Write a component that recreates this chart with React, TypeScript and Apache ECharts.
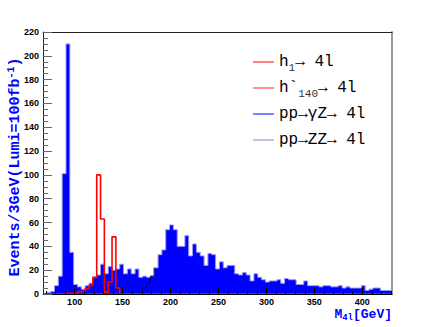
import React, { useEffect, useRef } from "react";
import * as echarts from "echarts";

// ---- data ----
const binStart = 67; // GeV, left edge of first bin
const binWidth = 4; // GeV
// pp -> gamma Z / ZZ -> 4l (filled histogram), events per bin
const gzCounts = [
  0, 1, 2, 7, 15, 101, 210, 35, 8, 6,
  4, 7, 9, 14, 16, 25, 17, 23, 20, 21,
  25, 17, 21, 17, 21, 14, 15, 14, 15, 22,
  33, 37, 54, 58, 54, 40, 40, 49, 32, 42,
  35, 32, 24, 34, 33, 21, 27, 22, 24, 24,
  17, 16, 18, 16, 11, 17, 14, 12, 10, 11,
  11, 12, 9, 13, 12, 12, 8, 8, 11, 7,
  7, 7, 6, 7, 7, 6, 6, 7, 5, 6,
  5, 5, 5, 7, 3, 4, 5, 5, 3, 3, 3,
];
// ZZ threshold line (dark), starting at bin index zzFirstBin
const zzFirstBin = 25;
const zzCounts = [0, 5, 9, 15, 22];
// h1 -> 4l signal (red outline), non-zero bins starting at h1FirstBin
const h1FirstBin = 5;
const h1Counts = [0.5, 0.5, 0.5, 1, 2, 2, 4.5, 7, 14, 100, 63, 1.5];
// h'140 -> 4l signal
const h140FirstBin = 15;
const h140Counts = [0.5, 2, 10, 48, 5];

const xMajorTicks = [100, 150, 200, 250, 300, 350, 400];
const xMinorTicks = [70, 80, 90, 100, 110, 120, 130, 140, 150, 160, 170, 180, 190, 200, 210, 220, 230, 240, 250, 260, 270, 280, 290, 300, 310, 320, 330, 340, 350, 360, 370, 380, 390, 400, 410, 420, 430];

const legendLabels: Record<string, string> = {
  h1: "h{sub|1}→ 4l",
  h140: "h`{sub|140}→ 4l",
  gz: "pp→γZ→ 4l",
  zz: "pp→ZZ→ 4l",
};

const nBins = gzCounts.length;
const xMin = binStart;
const xMax = binStart + nBins * binWidth;

function pad(first: number, arr: number[]): number[] {
  const out: number[] = [];
  for (let k = 0; k < nBins; k++) {
    out.push(k >= first && k < first + arr.length ? arr[k - first] : 0);
  }
  return out;
}

function histPoints(counts: number[], first = 0, close = true): number[][] {
  const pts = counts.map((v, i) => [binStart + (first + i) * binWidth, v]);
  if (close) pts.push([binStart + (first + counts.length) * binWidth, counts[counts.length - 1]]);
  return pts;
}

export default function App() {
  const ref = useRef<HTMLDivElement>(null);
  useEffect(() => {
    if (!ref.current) return;
    const chart = echarts.init(ref.current, null, { renderer: "svg" });
    const mono = "Liberation Mono";
    const sans = "Liberation Sans";
    const item = (name: string, color: string, width: number) => ({
      name,
      itemStyle: { color, borderWidth: 0, opacity: 1 },
      lineStyle: { color, width, type: "solid", opacity: 1 },
    });
    chart.setOption({
      animation: false,
      backgroundColor: "#ffffff",
      grid: { left: 43, right: 44, top: 32, bottom: 33, containLabel: false },
      legend: {
        orient: "vertical",
        left: 253,
        top: 51,
        padding: 0,
        itemGap: 4,
        itemWidth: 21,
        itemHeight: 1,
        icon: "rect",
        selectedMode: false,
        data: [
          item("h1", "#ff0000", 1.4),
          item("h140", "#ff2020", 1.4),
          item("gz", "#0000ff", 0.8),
          item("zz", "#8484cc", 1.4),
        ],
        formatter: (n: string) => legendLabels[n] ?? n,
        textStyle: {
          fontFamily: mono,
          fontSize: 16,
          color: "#000",
          lineHeight: 22,
          rich: {
            sub: { fontFamily: mono, fontSize: 11, lineHeight: 22, color: "#333", verticalAlign: "bottom" },
          },
        },
      },
      xAxis: [
        {
          type: "value",
          min: xMin,
          max: xMax,
          position: "bottom",
          z: 5,
          axisLine: { show: true, onZero: false, lineStyle: { color: "#000", width: 1 } },
          axisTick: { show: true, inside: true, length: 6, customValues: xMajorTicks, lineStyle: { color: "#000" } },
          axisLabel: {
            show: true,
            customValues: xMajorTicks,
            margin: 3,
            fontFamily: sans,
            fontSize: 9,
            fontWeight: "bold",
            color: "#000",
          },
          splitLine: { show: false },
        },
        {
          type: "value",
          min: xMin,
          max: xMax,
          position: "bottom",
          z: 5,
          axisLine: { show: false },
          axisTick: { show: true, inside: true, length: 3, customValues: xMinorTicks, lineStyle: { color: "#000" } },
          axisLabel: { show: false },
          splitLine: { show: false },
        },
        {
          type: "value",
          min: xMin,
          max: xMax,
          position: "top",
          z: 5,
          axisLine: { show: true, onZero: false, lineStyle: { color: "#222", width: 1 } },
          axisTick: { show: false },
          axisLabel: { show: false },
          splitLine: { show: false },
        },
      ],
      yAxis: [
        {
          type: "value",
          min: 0,
          max: 220,
          interval: 20,
          position: "left",
          z: 5,
          axisLine: { show: true, onZero: false, lineStyle: { color: "#222", width: 1 } },
          axisTick: { show: true, inside: true, length: 9, lineStyle: { color: "#666" } },
          minorTick: { show: true, splitNumber: 4, length: 5, lineStyle: { color: "#666" } },
          axisLabel: { margin: 4, fontFamily: sans, fontSize: 9, fontWeight: "bold", color: "#000" },
          splitLine: { show: false },
          minorSplitLine: { show: false },
        },
        {
          type: "value",
          min: 0,
          max: 220,
          position: "right",
          z: 5,
          axisLine: { show: true, onZero: false, lineStyle: { color: "#999", width: 2 } },
          axisTick: { show: false },
          axisLabel: { show: false },
          splitLine: { show: false },
        },
      ],
      graphic: [
        {
          type: "text",
          x: 15,
          y: 167,
          rotation: Math.PI / 2,
          style: {
            text: "Events/3GeV(Lumi=100fb{sup|-1})",
            align: "center",
            verticalAlign: "middle",
            fontFamily: mono,
            fontSize: 15,
            fontWeight: "bold",
            fill: "#0000ff",
            rich: {
              sup: { fontFamily: mono, fontSize: 10, fontWeight: "bold", fill: "#0000ff", verticalAlign: "top", lineHeight: 17 },
            },
          },
        },
        {
          type: "text",
          x: 392,
          y: 314,
          style: {
            text: "M{sub|4l}[GeV]",
            align: "right",
            verticalAlign: "middle",
            fontFamily: mono,
            fontSize: 13,
            fontWeight: "bold",
            fill: "#0000ff",
            lineHeight: 16,
            rich: {
              sub: { fontFamily: mono, fontSize: 9, fontWeight: "bold", fill: "#0000ff", verticalAlign: "bottom", lineHeight: 16 },
            },
          },
        },
      ],
      series: [
        {
          name: "gzFill",
          type: "line",
          step: "end",
          xAxisIndex: 0,
          yAxisIndex: 0,
          showSymbol: false,
          symbol: "none",
          color: "#0000ff",
          lineStyle: { color: "#9a9ae8", width: 1 },
          areaStyle: { color: "#0000ff", opacity: 1 },
          data: histPoints(gzCounts),
          z: 2,
        },
        {
          // legend entry for the filled pp -> gamma Z histogram
          name: "gz",
          type: "line",
          showSymbol: false,
          symbol: "none",
          color: "#0000ff",
          lineStyle: { color: "#0000ff", width: 1 },
          data: [],
        },
        {
          name: "zz",
          type: "line",
          step: "end",
          showSymbol: false,
          symbol: "none",
          color: "#8484cc",
          lineStyle: { color: "#000070", width: 1 },
          data: histPoints(zzCounts, zzFirstBin, false),
          z: 3,
        },
        {
          name: "h1",
          type: "line",
          step: "end",
          showSymbol: false,
          symbol: "none",
          color: "#ff0000",
          lineStyle: { color: "#ff0000", width: 1.6 },
          data: histPoints(pad(h1FirstBin, h1Counts)),
          z: 4,
        },
        {
          name: "h140",
          type: "line",
          step: "end",
          showSymbol: false,
          symbol: "none",
          color: "#ff0000",
          lineStyle: { color: "#ff0000", width: 1.6 },
          data: histPoints(pad(h140FirstBin, h140Counts)),
          z: 4,
        },
      ],
    });
    return () => chart.dispose();
  }, []);
  return (
    <div
      ref={ref}
      style={{ position: "absolute", left: 0, top: 0, width: 436, height: 327, background: "#fff" }}
    />
  );
}
